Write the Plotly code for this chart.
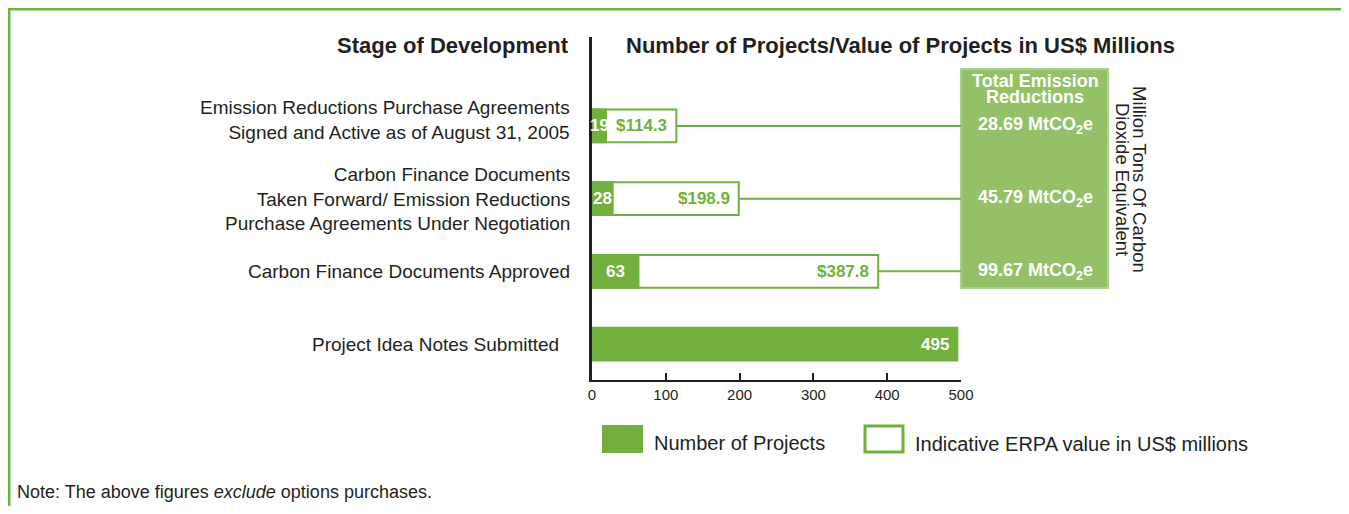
import plotly.graph_objects as go

# ---------------- data ----------------
stages = [
    "Emission Reductions Purchase Agreements<br>Signed and Active as of August 31, 2005",
    "Carbon Finance Documents<br>Taken Forward/ Emission Reductions<br>Purchase Agreements Under Negotiation",
    "Carbon Finance Documents Approved",
    "Project Idea Notes Submitted\u00a0\u00a0",
]
project_counts = [19, 28, 63, 495]
erpa_values = [114.3, 198.9, 387.8, None]
emissions_mt = [28.69, 45.79, 99.67, None]
x_ticks = [0, 100, 200, 300, 400, 500]

# ---------------- styling ----------------
GREEN = "#72b03d"
PANEL = "#94c167"
PANEL_LINE = "#a9d18e"
FRAME = "#6cb33e"
TEXT = "#231f20"
FONT = "Liberation Sans, Arial, Helvetica, sans-serif"

OFF = 8                      # page body margin
W, H = 1349 - OFF, 514 - 2 * OFF
# plot area in page pixels
L, R, T, B = 592, 961, 37, 380


def px(x):
    return (x - L) / (R - L)


def py(y):
    return (B - y) / (B - T)


n = len(stages)
positions = [n - 1 - i for i in range(n)]

fig = go.Figure()

# white value bars
vy = [p for p, v in zip(positions, erpa_values) if v is not None]
vx = [v for v in erpa_values if v is not None]
fig.add_trace(go.Bar(
    orientation="h", y=vy, x=vx, width=0.45,
    marker=dict(color="white", line=dict(color=GREEN, width=2)),
    hoverinfo="skip", showlegend=False,
))
# green count bars
fig.add_trace(go.Bar(
    orientation="h", y=positions, x=project_counts, width=0.45,
    marker=dict(color=GREEN, line=dict(color=GREEN, width=2)),
    hoverinfo="skip", showlegend=False,
))

shapes = []
annotations = []

# page frame
shapes.append(dict(type="rect", xref="paper", yref="paper", layer="below",
                   x0=px(OFF + 1.2), x1=px(1346.5), y0=py(560), y1=py(OFF + 1.2),
                   fillcolor="white", line=dict(color=FRAME, width=2.5)))

# emission panel
shapes.append(dict(type="rect", xref="paper", yref="paper",
                   x0=1.0, x1=px(1108), y0=py(288), y1=py(69),
                   fillcolor=PANEL, line=dict(color=PANEL_LINE, width=2)))

# connectors
for p, v in zip(positions, erpa_values):
    if v is None:
        continue
    shapes.append(dict(type="line", xref="x", yref="y", x0=v, x1=x_ticks[-1],
                       y0=p, y1=p, line=dict(color=GREEN, width=2)))

# category labels
for i, (p, s) in enumerate(zip(positions, stages)):
    annotations.append(dict(xref="paper", yref="y", x=0, y=p, xshift=-20,
                            yshift=6 if i == 0 else 0,
                            xanchor="right", yanchor="middle", align="right",
                            text=s, showarrow=False,
                            font=dict(family=FONT, size=19, color=TEXT)))

# count labels
for p, c in zip(positions, project_counts):
    if c < 100:
        annotations.append(dict(xref="x", yref="y", x=c / 2, y=p, xanchor="center",
                                text="<b>%d</b>" % c, showarrow=False,
                                font=dict(family=FONT, size=17, color="white")))
    else:
        annotations.append(dict(xref="x", yref="y", x=c, y=p, xanchor="right", xshift=-6,
                                text="<b>%d</b>" % c, showarrow=False,
                                font=dict(family=FONT, size=17, color="white")))

# value labels
for p, v in zip(positions, erpa_values):
    if v is None:
        continue
    annotations.append(dict(xref="x", yref="y", x=v, y=p, xanchor="right", xshift=-7,
                            text="<b>$%.1f</b>" % v, showarrow=False,
                            font=dict(family=FONT, size=17, color=GREEN)))

# emission labels
for p, e in zip(positions, emissions_mt):
    if e is None:
        continue
    annotations.append(dict(xref="paper", yref="y", x=px(1035), y=p, xanchor="center",
                            text="<b>%.2f MtCO<sub>2</sub>e</b>" % e, showarrow=False,
                            font=dict(family=FONT, size=18, color="white")))

# panel header
for txt, yy in (("Total Emission", 81), ("Reductions", 97)):
    annotations.append(dict(xref="paper", yref="paper", x=px(1035), y=py(yy),
                            xanchor="center", yanchor="middle", text="<b>%s</b>" % txt,
                            showarrow=False, font=dict(family=FONT, size=18, color="white")))

# rotated unit text
for txt, xx in (("Million Tons Of Carbon", 1140), ("Dioxide Equivalent", 1123)):
    annotations.append(dict(xref="paper", yref="paper", x=px(xx), y=py(179),
                            xanchor="center", yanchor="middle", textangle=90,
                            text=txt, showarrow=False,
                            font=dict(family=FONT, size=18.5, color=TEXT)))

# headers
annotations.append(dict(xref="paper", yref="paper", x=px(571), y=py(45),
                        xanchor="right", yanchor="middle",
                        text="<b>Stage of Development</b>", showarrow=False,
                        font=dict(family=FONT, size=22, color=TEXT)))
annotations.append(dict(xref="paper", yref="paper", x=px(624), y=py(45),
                        xanchor="left", yanchor="middle",
                        text="<b>Number of Projects/Value of Projects in US$ Millions</b>",
                        showarrow=False, font=dict(family=FONT, size=22, color=TEXT)))

# legend
shapes.append(dict(type="rect", xref="paper", yref="paper",
                   x0=px(602), x1=px(643), y0=py(453), y1=py(425),
                   fillcolor=GREEN, line=dict(color=GREEN, width=0)))
shapes.append(dict(type="rect", xref="paper", yref="paper",
                   x0=px(865), x1=px(903), y0=py(452), y1=py(426),
                   fillcolor="white", line=dict(color=GREEN, width=3)))
annotations.append(dict(xref="paper", yref="paper", x=px(652), y=py(443),
                        xanchor="left", yanchor="middle", text="Number of Projects",
                        showarrow=False, font=dict(family=FONT, size=20, color=TEXT)))
annotations.append(dict(xref="paper", yref="paper", x=px(913), y=py(444),
                        xanchor="left", yanchor="middle",
                        text="Indicative ERPA value in US$ millions",
                        showarrow=False, font=dict(family=FONT, size=20, color=TEXT)))

# note
annotations.append(dict(xref="paper", yref="paper", x=px(15), y=py(492),
                        xanchor="left", yanchor="middle",
                        text="Note: The above figures <i>exclude</i> options purchases.",
                        showarrow=False, font=dict(family=FONT, size=18, color=TEXT)))

fig.update_layout(
    width=W, height=H,
    margin=dict(l=L - OFF, r=W - (R - OFF), t=T - OFF, b=H - (B - OFF), pad=0),
    paper_bgcolor="#e6e7e8",
    plot_bgcolor="rgba(0,0,0,0)",
    barmode="overlay",
    showlegend=False,
    shapes=shapes,
    annotations=annotations,
    xaxis=dict(range=[x_ticks[0], x_ticks[-1]], tickvals=x_ticks,
               ticks="inside", ticklen=7, tickwidth=2, tickcolor=TEXT,
               showline=True, linewidth=2, linecolor=TEXT,
               showgrid=False, zeroline=False,
               tickfont=dict(family=FONT, size=15, color=TEXT)),
    yaxis=dict(range=[-0.495, 4.224], showticklabels=False, ticks="",
               showline=True, linewidth=2.5, linecolor=TEXT,
               showgrid=False, zeroline=False),
)

fig.write_html("out.html")
